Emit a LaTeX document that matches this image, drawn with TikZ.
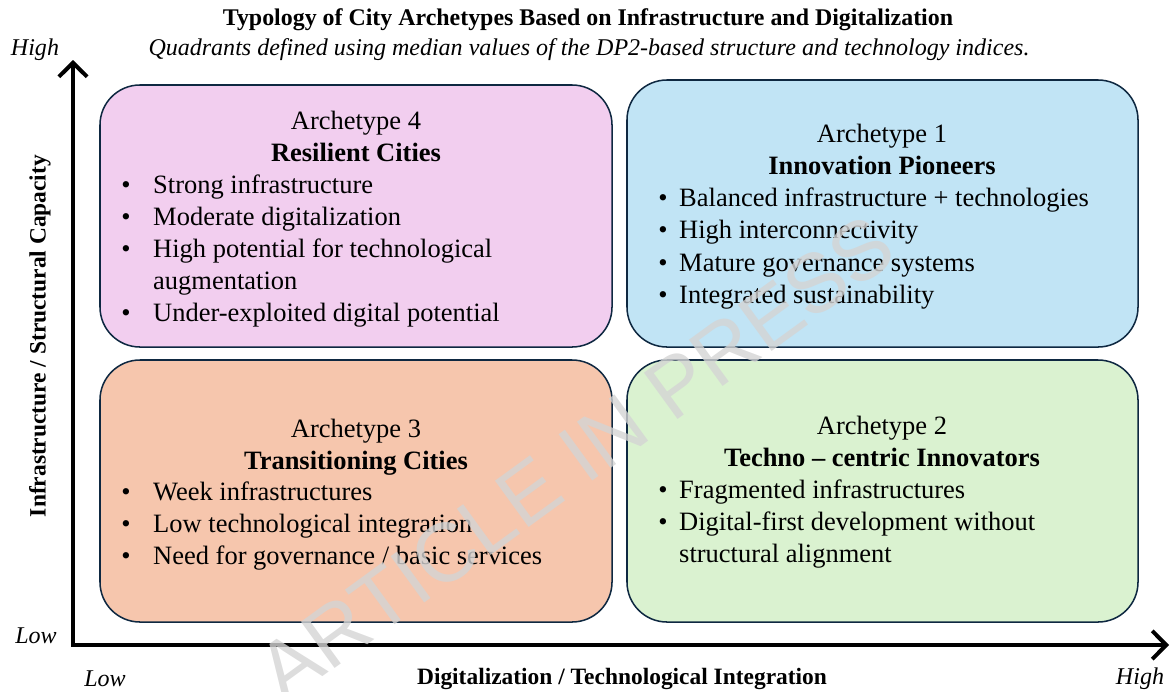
\documentclass[tikz,border=0pt]{standalone}
\usepackage{fontspec}
\setmainfont{Liberation Serif}
\newfontfamily\stampfont{Liberation Sans}
\usetikzlibrary{arrows.meta}
\definecolor{archpink}{HTML}{F2CEEF}
\definecolor{archblue}{HTML}{C1E4F5}
\definecolor{archpeach}{HTML}{F6C6AD}
\definecolor{archgreen}{HTML}{DAF2D0}
\definecolor{archedge}{HTML}{0E2841}
\definecolor{stampgray}{HTML}{D4D4D4}

\tikzset{
  archbox/.style={draw=archedge, line width=1.3pt, rounded corners=1.2cm, inner sep=0pt},
  boxtext/.style={font=\fontsize{22.6}{27}\selectfont, inner sep=0pt, anchor=base},
  itemtext/.style={boxtext, anchor=base west},
  axislabel/.style={font=\fontsize{20}{24}\selectfont\bfseries, inner sep=0pt},
  levellabel/.style={font=\fontsize{20.5}{24}\selectfont\itshape, inner sep=0pt},
  axis/.style={line width=3.4pt, {Straight Barb[length=0.42cm,width=0.85cm]}-{Straight Barb[length=0.42cm,width=0.85cm]}},
  stamp/.style={font=\stampfont\fontsize{71}{75}\selectfont, text=stampgray, opacity=0.8, rotate=36, inner sep=0pt}
}

\begin{document}
\begin{tikzpicture}[x=0.03cm,y=-0.03cm]
  \useasboundingbox (0,0) rectangle (1171,691);

  % title lines
  \node[font=\fontsize{20.4}{24}\selectfont\bfseries, inner sep=0pt] (title) at (588,20)
    {Typology of City Archetypes Based on Infrastructure and Digitalization};
  \node[font=\fontsize{20.5}{24}\selectfont\itshape, inner sep=0pt] (subtitle) at (589,50)
    {Quadrants defined using median values of the DP2-based structure and technology indices.};

  % axes
  \coordinate (origin) at (73,645);
  \coordinate (ytop) at (73,60);
  \coordinate (xend) at (1169,645);
  \draw[axis] (ytop) -- (origin) -- (xend);

  \node[levellabel] (yhigh) at (35,50) {High};
  \node[levellabel] (ylow) at (36,636) {Low};
  \node[levellabel] (xlow) at (105,679) {Low};
  \node[levellabel] (xhigh) at (1140,679) {High};
  \node[axislabel, rotate=90] (ylabel) at (40,336) {Infrastructure / Structural Capacity};
  \node[axislabel] (xlabel) at (622,679) {Digitalization / Technological Integration};

  % quadrant boxes
  \node[archbox, fill=archpink, minimum width=15.36cm, minimum height=7.86cm] (arch4) at (356,216) {};
  \node[archbox, fill=archblue, minimum width=15.33cm, minimum height=8.01cm] (arch1) at (882.5,213.5) {};
  \node[archbox, fill=archpeach, minimum width=15.36cm, minimum height=7.86cm] (arch3) at (356,491) {};
  \node[archbox, fill=archgreen, minimum width=15.33cm, minimum height=7.86cm] (arch2) at (882.5,491) {};

  % archetype 4
  \node[boxtext] (arch4-num) at (356,129) {Archetype 4};
  \node[boxtext, font=\fontsize{22.6}{27}\selectfont\bfseries] (arch4-name) at (356,161) {Resilient Cities};
  \foreach \y/\t [count=\i] in {193/Strong infrastructure, 225/Moderate digitalization,
      257/High potential for technological, 321/Under-exploited digital potential}
    {\node[boxtext] (arch4-dot\i) at (126,\y) {\textbullet};
     \node[itemtext] (arch4-item\i) at (153,\y) {\t};}
  \node[itemtext] (arch4-wrap) at (153,289) {augmentation};

  % archetype 1
  \node[boxtext] (arch1-num) at (882,142) {Archetype 1};
  \node[boxtext, font=\fontsize{22.6}{27}\selectfont\bfseries] (arch1-name) at (882,174) {Innovation Pioneers};
  \foreach \y/\t [count=\i] in {206/{Balanced infrastructure + technologies}, 238/High interconnectivity,
      271/Mature governance systems, 303/Integrated sustainability}
    {\node[boxtext] (arch1-dot\i) at (663,\y) {\textbullet};
     \node[itemtext] (arch1-item\i) at (679,\y) {\t};}

  % archetype 3
  \node[boxtext] (arch3-num) at (356,437) {Archetype 3};
  \node[boxtext, font=\fontsize{22.6}{27}\selectfont\bfseries] (arch3-name) at (356,469) {Transitioning Cities};
  \foreach \y/\t [count=\i] in {500/Week infrastructures, 532/Low technological integration,
      564/{Need for governance / basic services}}
    {\node[boxtext] (arch3-dot\i) at (126,\y) {\textbullet};
     \node[itemtext] (arch3-item\i) at (153,\y) {\t};}

  % archetype 2
  \node[boxtext] (arch2-num) at (882,434) {Archetype 2};
  \node[boxtext, font=\fontsize{22.6}{27}\selectfont\bfseries] (arch2-name) at (882,466) {Techno -- centric Innovators};
  \foreach \y/\t [count=\i] in {498/Fragmented infrastructures, 530/Digital-first development without}
    {\node[boxtext] (arch2-dot\i) at (663,\y) {\textbullet};
     \node[itemtext] (arch2-item\i) at (679,\y) {\t};}
  \node[itemtext] (arch2-wrap) at (679,562) {structural alignment};

  % watermark
  \node[stamp] (stampmark) at (576,458) {ARTICLE IN PRESS};
\end{tikzpicture}
\end{document}
